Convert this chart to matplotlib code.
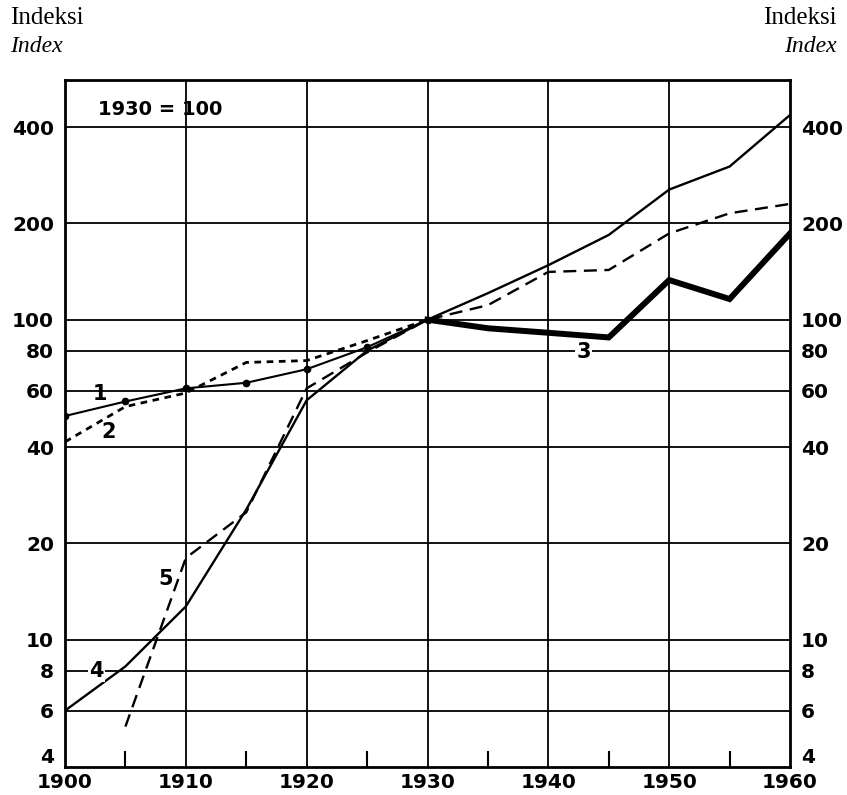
import numpy as np
import matplotlib.pyplot as plt
from matplotlib.ticker import FixedLocator, NullLocator

# series 1: thin solid with dots
years_1 = [1900, 1905, 1910, 1915, 1920, 1925, 1930]
index_1 = [50, 55.5, 61, 63.5, 70, 82, 100]

# series 2: short dashes
years_2 = [1900, 1905, 1910, 1915, 1920, 1925, 1930]
index_2 = [41.5, 53.5, 59, 73.5, 74.5, 86, 100]

# series 3: heavy line
years_3 = [1930, 1935, 1940, 1945, 1950, 1955, 1960]
index_3 = [100, 94, 91, 88, 133, 116, 186]

# series 4: solid
years_4 = [1900, 1905, 1910, 1915, 1920, 1925, 1930, 1935, 1940, 1945, 1950, 1955, 1960]
index_4 = [6, 8.25, 12.7, 25.5, 56, 80, 100, 121, 148, 184, 255, 301, 436]

# series 5: long dashes
years_5 = [1905, 1910, 1915, 1920, 1925, 1930, 1935, 1940, 1945, 1950, 1955, 1960]
index_5 = [5.35, 18, 25, 61, 79, 100, 111, 141, 143, 186, 215, 230]

y_ticks = [4, 6, 8, 10, 20, 40, 60, 80, 100, 200, 400]
x_ticks = [1900, 1910, 1920, 1930, 1940, 1950, 1960]

fig = plt.figure(figsize=(8.47, 7.95), dpi=100)
ax = fig.add_axes([65 / 847, 1 - 767 / 795, 725 / 847, 687 / 795])

ax.set_yscale('log')
ax.set_xlim(1900, 1960)
ax.set_ylim(4, 561)

# grid
for v in [6, 8, 10, 20, 40, 60, 80, 100, 200, 400]:
    ax.axhline(v, color='black', lw=1.3, zorder=1)
for x in [1910, 1920, 1930, 1940, 1950]:
    ax.axvline(x, color='black', lw=1.3, zorder=1)

ax.plot(years_1, index_1, color='black', lw=1.5, marker='o', ms=4.5, zorder=4)
ax.plot(years_2, index_2, color='black', lw=2.0, dashes=(2.4, 2.0), zorder=4)
ax.plot(years_3, index_3, color='black', lw=4.3, solid_joinstyle='miter', zorder=5)
ax.plot(years_4, index_4, color='black', lw=1.7, zorder=4)
ax.plot(years_5, index_5, color='black', lw=1.7, dashes=(5.5, 3.2), zorder=4)

bold = dict(fontsize=15, fontweight='bold', family='DejaVu Sans')
wbox = dict(facecolor='white', edgecolor='none', pad=1)
ax.text(1902.9, 58.5, '1', ha='center', va='center', zorder=3, **bold)
ax.text(1903.6, 44.5, '2', ha='center', va='center', zorder=3, **bold)
ax.text(1942.9, 79, '3', ha='center', va='center', zorder=6, bbox=wbox, **bold)
ax.text(1902.6, 8.0, '4', ha='center', va='center', zorder=6, bbox=wbox, **bold)
ax.text(1908.3, 15.5, '5', ha='center', va='center', zorder=6, **bold)
ax.text(1902.7, 455, '1930 = 100', ha='left', va='center', fontsize=14,
        fontweight='bold', family='DejaVu Sans')

ax.yaxis.set_major_locator(FixedLocator(y_ticks))
ax.yaxis.set_minor_locator(NullLocator())
ax.set_yticklabels([str(v) for v in y_ticks])
ax.xaxis.set_major_locator(FixedLocator(x_ticks))
ax.xaxis.set_minor_locator(FixedLocator([1905, 1915, 1925, 1935, 1945, 1955]))
ax.set_xticklabels([str(v) for v in x_ticks])

ax.tick_params(axis='y', which='both', length=0, pad=8, labelleft=True, labelright=True)
ax.tick_params(axis='x', which='major', length=0, pad=4)
ax.tick_params(axis='x', which='minor', direction='in', length=11.5, width=1.5, top=False)
for lab in ax.get_xticklabels() + ax.get_yticklabels():
    lab.set_fontweight('bold')
    lab.set_fontsize(14.5)

# the lowest value label sits just above the x axis, as in the print
ticks = ax.yaxis.get_major_ticks()
ticks[0].label1.set_va('bottom')
ticks[0].label2.set_va('bottom')

for s in ax.spines.values():
    s.set_linewidth(2)

fig.text(10 / 847, 1 - 18 / 795, 'Indeksi', family='Liberation Serif', fontsize=18, va='center', ha='left')
fig.text(10 / 847, 1 - 46 / 795, 'Index', family='Liberation Serif', style='italic', fontsize=17, va='center', ha='left')
fig.text(837 / 847, 1 - 18 / 795, 'Indeksi', family='Liberation Serif', fontsize=18, va='center', ha='right')
fig.text(837 / 847, 1 - 46 / 795, 'Index', family='Liberation Serif', style='italic', fontsize=17, va='center', ha='right')

fig.savefig('out.png', dpi=100)
